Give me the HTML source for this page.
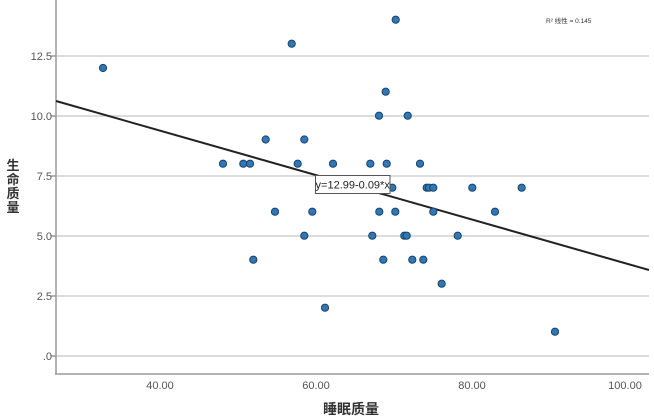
<!DOCTYPE html>
<html><head><meta charset="utf-8"><style>
html,body{margin:0;padding:0;background:#fff;}
svg{display:block;}
</style></head><body>
<svg width="654" height="417" viewBox="0 0 654 417" xmlns="http://www.w3.org/2000/svg">
<rect width="654" height="417" fill="#fff"/>
<g stroke="#d0d0d0" stroke-width="1.5">
<line x1="56" y1="56" x2="649" y2="56"/>
<line x1="56" y1="116" x2="649" y2="116"/>
<line x1="56" y1="176" x2="649" y2="176"/>
<line x1="56" y1="236" x2="649" y2="236"/>
<line x1="56" y1="296" x2="649" y2="296"/>
<line x1="56" y1="356" x2="649" y2="356"/>
</g>
<g stroke="#999" stroke-width="1.5">
<line x1="56" y1="0" x2="56" y2="374"/>
<line x1="55" y1="374" x2="649" y2="374"/>
<line x1="51" y1="56" x2="56" y2="56"/>
<line x1="51" y1="116" x2="56" y2="116"/>
<line x1="51" y1="176" x2="56" y2="176"/>
<line x1="51" y1="236" x2="56" y2="236"/>
<line x1="51" y1="296" x2="56" y2="296"/>
<line x1="51" y1="356" x2="56" y2="356"/>
</g>
<g font-family="Liberation Sans, sans-serif" font-size="11" fill="#555" text-anchor="end">
<text x="52" y="60">12.5</text>
<text x="52" y="120">10.0</text>
<text x="52" y="180">7.5</text>
<text x="52" y="240">5.0</text>
<text x="52" y="300">2.5</text>
<text x="52" y="360">.0</text>
</g>
<g font-family="Liberation Sans, sans-serif" font-size="11" fill="#555" text-anchor="middle">
<text x="160" y="389">40.00</text>
<text x="316" y="389">60.00</text>
<text x="472" y="389">80.00</text>
<text x="625" y="389">100.00</text>
</g>
<g font-family="Liberation Sans, 'Noto Sans CJK SC', sans-serif" font-size="13" font-weight="bold" fill="#333" text-anchor="middle">
<text x="13" y="170">生</text>
<text x="13" y="184">命</text>
<text x="13" y="198">质</text>
<text x="13" y="212">量</text>
</g>
<text x="351" y="414" font-family="Liberation Sans, 'Noto Sans CJK SC', sans-serif" font-size="14" font-weight="bold" fill="#333" text-anchor="middle">睡眠质量</text>
<text x="546" y="23" font-family="Liberation Sans, 'Noto Sans CJK SC', sans-serif" font-size="6.5" fill="#333">R² 线性 = 0.145</text>
<line x1="56" y1="101" x2="649" y2="270" stroke="#222" stroke-width="2"/>
<g fill="#2f78b8" stroke="#1d4266" stroke-width="1">
<circle cx="103" cy="68" r="3.6"/>
<circle cx="291.7" cy="43.7" r="3.6"/>
<circle cx="395.7" cy="19.7" r="3.6"/>
<circle cx="385.7" cy="91.7" r="3.6"/>
<circle cx="379" cy="115.7" r="3.6"/>
<circle cx="407.7" cy="115.7" r="3.6"/>
<circle cx="265.7" cy="139.5" r="3.6"/>
<circle cx="304.3" cy="139.5" r="3.6"/>
<circle cx="223" cy="163.7" r="3.6"/>
<circle cx="243.3" cy="163.7" r="3.6"/>
<circle cx="250" cy="163.7" r="3.6"/>
<circle cx="297.7" cy="163.7" r="3.6"/>
<circle cx="333" cy="163.7" r="3.6"/>
<circle cx="370.3" cy="163.7" r="3.6"/>
<circle cx="386.7" cy="163.7" r="3.6"/>
<circle cx="420" cy="163.7" r="3.6"/>
<circle cx="392.3" cy="187.7" r="3.6"/>
<circle cx="426.7" cy="187.7" r="3.6"/>
<circle cx="429" cy="187.7" r="3.6"/>
<circle cx="433.3" cy="187.7" r="3.6"/>
<circle cx="472.3" cy="187.7" r="3.6"/>
<circle cx="521.7" cy="187.7" r="3.6"/>
<circle cx="275" cy="211.7" r="3.6"/>
<circle cx="312.3" cy="211.7" r="3.6"/>
<circle cx="379.3" cy="211.7" r="3.6"/>
<circle cx="395.3" cy="211.7" r="3.6"/>
<circle cx="433.3" cy="211.7" r="3.6"/>
<circle cx="495" cy="211.7" r="3.6"/>
<circle cx="304.3" cy="235.7" r="3.6"/>
<circle cx="372.3" cy="235.7" r="3.6"/>
<circle cx="404.3" cy="235.7" r="3.6"/>
<circle cx="406.7" cy="235.7" r="3.6"/>
<circle cx="457.7" cy="235.7" r="3.6"/>
<circle cx="253.3" cy="259.7" r="3.6"/>
<circle cx="383.3" cy="259.7" r="3.6"/>
<circle cx="412.3" cy="259.7" r="3.6"/>
<circle cx="423.3" cy="259.7" r="3.6"/>
<circle cx="441.7" cy="283.7" r="3.6"/>
<circle cx="325" cy="307.7" r="3.6"/>
<circle cx="555" cy="331.7" r="3.6"/>
</g>
<rect x="315.5" y="175.5" width="74.5" height="18" fill="#fff" stroke="#555" stroke-width="1"/>
<text x="352.7" y="188.5" font-family="Liberation Sans, sans-serif" font-size="11" fill="#222" text-anchor="middle">y=12.99-0.09*x</text>
</svg>
</body></html>
